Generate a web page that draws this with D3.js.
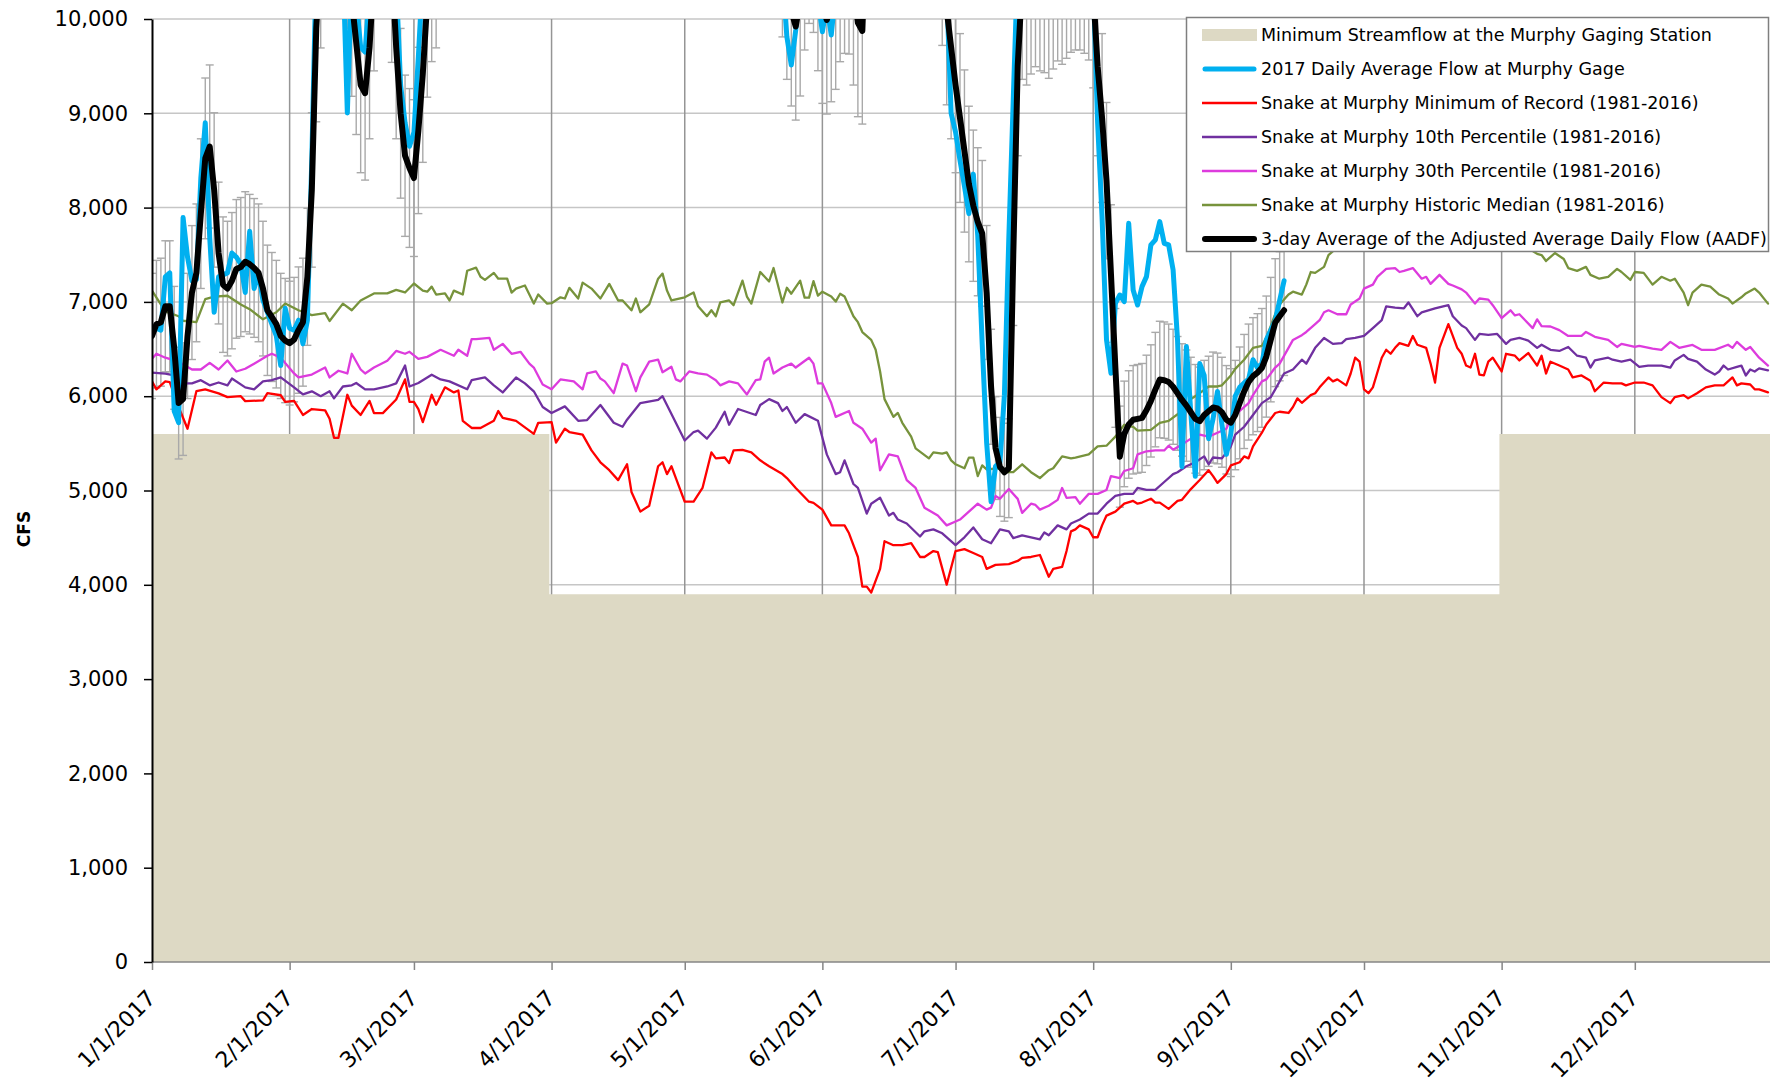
<!DOCTYPE html>
<html>
<head>
<meta charset="utf-8">
<script src="https://cdn.jsdelivr.net/npm/d3@7"></script>
<style>
  body { margin: 0; background: #fff; }
  svg { display: block; font-family: "DejaVu Sans", sans-serif; }
</style>
</head>
<body>
<svg width="1775" height="1083"></svg>
<script>
// every series is [day of year (0 = 1/1/2017), cfs]
const minRecord = [[0,6157],[1,6073],[3,6157],[4,6150],[6,5885],[8,5655],[10,6053],[12,6073],[15,6030],[17,5990],[20,6000],[21,5948],[25,5955],[26,6032],[29,6010],[30,5940],[32,5950],[34,5801],[36,5864],[39,5850],[40,5760],[41,5559],[42,5559],[44,6015],[45,5900],[47,5801],[49,5950],[50,5820],[52,5820],[55,5965],[57,6178],[58,5940],[59,5940],[60,5864],[61,5726],[63,6015],[64,5910],[66,6094],[68,6040],[69,6060],[70,5739],[72,5663],[74,5663],[77,5739],[78,5843],[79,5770],[82,5739],[84,5670],[86,5601],[87,5718],[90,5726],[91,5508],[93,5655],[94,5620],[97,5592],[99,5425],[101,5299],[103,5215],[105,5110],[107,5278],[108,4985],[110,4776],[112,4839],[114,5257],[115,5299],[116,5174],[117,5257],[118,5132],[120,4881],[122,4881],[124,5027],[125,5215],[126,5404],[127,5341],[129,5350],[130,5290],[131,5425],[133,5430],[135,5404],[137,5320],[139,5257],[142,5174],[143,5132],[145,5027],[148,4881],[149,4868],[151,4797],[153,4630],[156,4630],[157,4546],[159,4295],[160,3981],[161,3981],[162,3918],[164,4169],[165,4462],[167,4420],[169,4420],[171,4441],[173,4295],[174,4295],[176,4358],[177,4346],[179,4002],[181,4358],[183,4378],[185,4337],[187,4295],[188,4169],[190,4211],[193,4219],[195,4253],[196,4286],[198,4295],[200,4316],[202,4085],[203,4169],[205,4190],[206,4358],[207,4567],[208,4588],[209,4630],[211,4588],[212,4504],[213,4504],[214,4630],[215,4734],[217,4776],[219,4860],[221,4889],[222,4860],[223,4872],[225,4913],[226,4872],[227,4872],[229,4805],[231,4889],[232,4901],[234,5015],[236,5111],[238,5215],[239,5153],[240,5081],[242,5174],[243,5266],[245,5300],[246,5362],[247,5341],[248,5467],[250,5613],[251,5700],[252,5760],[253,5822],[254,5835],[256,5822],[257,5885],[258,5977],[259,5930],[261,6011],[262,6032],[263,6094],[265,6199],[266,6157],[267,6178],[269,6115],[270,6241],[271,6408],[272,6366],[273,6073],[274,6032],[275,6094],[277,6408],[278,6492],[279,6450],[280,6513],[281,6563],[283,6534],[284,6639],[285,6546],[287,6513],[288,6346],[289,6145],[290,6513],[292,6764],[293,6639],[294,6513],[295,6450],[296,6325],[297,6304],[298,6450],[299,6228],[300,6220],[301,6366],[302,6408],[304,6262],[305,6450],[307,6429],[308,6379],[310,6458],[312,6325],[313,6429],[314,6241],[315,6366],[317,6325],[319,6283],[320,6199],[322,6220],[324,6165],[325,6053],[327,6145],[329,6136],[331,6136],[332,6115],[334,6145],[336,6145],[338,6115],[340,5990],[342,5927],[343,5990],[345,6011],[346,5977],[348,6032],[350,6094],[352,6115],[354,6115],[356,6199],[357,6115],[358,6136],[360,6124],[361,6073],[362,6073],[364,6040]];

const pct10 = [[0,6249],[3,6240],[5,6220],[6,6136],[9,6136],[11,6170],[13,6115],[15,6145],[17,6115],[18,6187],[21,6094],[23,6073],[25,6157],[27,6170],[29,6199],[32,6094],[34,6019],[36,6052],[38,6000],[40,6052],[41,5977],[43,6103],[45,6115],[46,6140],[48,6073],[50,6073],[53,6103],[55,6136],[57,6325],[58,6103],[60,6140],[63,6228],[65,6178],[67,6157],[71,6073],[72,6170],[75,6199],[77,6115],[79,6040],[82,6199],[84,6136],[86,6052],[88,5885],[90,5822],[93,5892],[96,5739],[98,5747],[101,5906],[104,5718],[106,5676],[107,5751],[110,5927],[114,5961],[115,6000],[120,5530],[122,5620],[123,5634],[125,5550],[127,5667],[129,5835],[130,5697],[132,5864],[136,5801],[137,5906],[139,5969],[141,5927],[142,5843],[143,5885],[145,5718],[147,5810],[150,5739],[152,5383],[154,5174],[155,5194],[156,5320],[158,5069],[159,5027],[161,4755],[162,4860],[164,4923],[166,4734],[167,4763],[168,4692],[170,4650],[173,4512],[174,4567],[176,4588],[178,4546],[181,4420],[183,4504],[185,4608],[187,4483],[189,4441],[191,4588],[193,4567],[194,4495],[196,4525],[198,4504],[200,4483],[201,4555],[202,4525],[204,4630],[206,4588],[207,4650],[209,4692],[211,4755],[213,4755],[215,4860],[217,4943],[219,4964],[221,4964],[222,5027],[224,5006],[226,5006],[228,5090],[230,5174],[231,5194],[233,5257],[235,5299],[237,5362],[238,5278],[239,5350],[241,5341],[243,5467],[244,5592],[246,5676],[248,5801],[250,5927],[252,5990],[253,6073],[255,6241],[257,6283],[259,6387],[260,6345],[262,6513],[264,6618],[266,6555],[268,6563],[269,6605],[271,6618],[273,6639],[275,6722],[277,6806],[278,6953],[280,6940],[282,6932],[283,6994],[285,6848],[286,6890],[289,6932],[292,6965],[293,6848],[295,6750],[296,6722],[298,6597],[299,6660],[301,6650],[303,6660],[305,6555],[306,6597],[308,6618],[310,6590],[312,6513],[313,6546],[315,6492],[317,6480],[319,6522],[321,6429],[323,6408],[324,6304],[325,6379],[328,6408],[329,6387],[331,6366],[333,6387],[335,6312],[337,6325],[340,6325],[342,6304],[343,6379],[345,6438],[346,6396],[348,6366],[350,6283],[352,6229],[353,6262],[354,6325],[355,6283],[357,6312],[358,6325],[359,6220],[360,6283],[361,6262],[362,6295],[364,6274]];

const pct30 = [[0,6396],[1,6450],[3,6408],[6,6366],[9,6283],[11,6283],[13,6354],[15,6283],[17,6379],[19,6262],[21,6291],[23,6345],[26,6429],[27,6450],[29,6408],[32,6241],[33,6199],[36,6229],[39,6304],[40,6199],[42,6270],[44,6241],[45,6450],[47,6283],[48,6241],[50,6304],[53,6375],[55,6480],[57,6450],[58,6471],[60,6396],[62,6417],[65,6492],[68,6429],[69,6492],[71,6429],[72,6605],[73,6605],[76,6618],[77,6492],[79,6555],[81,6450],[83,6471],[85,6345],[86,6304],[88,6124],[90,6073],[92,6178],[95,6157],[97,6073],[98,6241],[100,6262],[101,6187],[102,6157],[104,6032],[106,6345],[107,6325],[109,6053],[110,6199],[112,6366],[114,6387],[115,6254],[117,6312],[118,6178],[119,6157],[121,6262],[123,6241],[125,6229],[127,6170],[128,6115],[130,6157],[132,6136],[134,6019],[136,6170],[137,6178],[138,6366],[139,6408],[140,6241],[142,6304],[144,6345],[145,6304],[148,6408],[149,6345],[150,6136],[151,6136],[153,5927],[154,5781],[157,5843],[158,5718],[160,5655],[162,5508],[163,5550],[164,5215],[166,5383],[168,5362],[170,5111],[172,5027],[174,4818],[177,4734],[179,4630],[181,4672],[182,4692],[184,4776],[186,4860],[188,4797],[189,4818],[190,4943],[191,4913],[193,5015],[195,4911],[196,4763],[198,4860],[199,4847],[200,4797],[202,4839],[204,4901],[205,5027],[206,4922],[208,4930],[209,4860],[211,4964],[213,4964],[215,5006],[216,5153],[218,5132],[219,5207],[221,5236],[222,5383],[224,5416],[226,5425],[228,5425],[229,5475],[230,5433],[232,5488],[234,5550],[236,5592],[238,5571],[240,5613],[242,5655],[243,5760],[245,5843],[247,5927],[248,6011],[250,6157],[251,6178],[253,6304],[254,6346],[256,6513],[257,6597],[259,6647],[260,6681],[262,6764],[263,6806],[264,6890],[265,6911],[267,6869],[269,6869],[270,6973],[272,7036],[273,7141],[275,7183],[276,7266],[278,7350],[280,7359],[281,7317],[282,7329],[284,7359],[286,7246],[287,7266],[288,7191],[290,7287],[292,7191],[293,7174],[295,7133],[296,7099],[298,6982],[299,7036],[301,7024],[302,6965],[304,6827],[306,6911],[307,6857],[308,6869],[311,6722],[312,6815],[313,6743],[315,6739],[317,6701],[319,6639],[322,6639],[323,6681],[325,6630],[328,6597],[330,6522],[331,6555],[334,6522],[335,6534],[338,6504],[340,6492],[342,6576],[344,6513],[347,6543],[349,6492],[352,6492],[355,6546],[356,6513],[357,6576],[359,6492],[360,6522],[362,6408],[364,6325]];

// mid Sep - early Nov is hidden behind the legend in the original, values there are estimates
const median = [[0,7120],[3,6900],[6,6848],[7,6800],[10,6785],[12,7030],[14,7057],[17,7065],[20,6973],[22,6923],[25,6815],[28,6890],[30,6982],[33,6911],[36,6860],[39,6881],[40,6798],[43,6982],[45,6911],[47,7015],[50,7090],[53,7090],[55,7128],[57,7100],[59,7195],[61,7120],[62,7108],[63,7162],[64,7078],[66,7090],[67,7015],[68,7120],[70,7078],[71,7330],[73,7363],[74,7266],[75,7233],[77,7308],[78,7246],[80,7246],[81,7099],[82,7141],[84,7174],[86,6982],[87,7078],[89,6982],[90,6986],[92,7049],[93,7036],[94,7149],[96,7036],[97,7204],[99,7141],[101,7036],[103,7191],[105,7015],[106,7015],[108,6911],[109,7036],[110,6890],[112,6973],[114,7246],[115,7300],[116,7120],[117,7015],[120,7049],[122,7099],[123,6953],[125,6848],[126,6911],[127,6848],[128,6994],[130,7015],[131,6965],[133,7225],[134,7057],[135,6982],[137,7317],[139,7217],[140,7359],[142,6994],[143,7150],[144,7087],[146,7225],[147,7045],[148,7045],[149,7221],[150,7066],[151,7108],[153,7057],[154,7003],[155,7087],[156,7057],[158,6848],[159,6785],[160,6680],[162,6597],[163,6492],[164,6262],[165,5969],[167,5781],[168,5823],[169,5718],[171,5571],[172,5446],[175,5341],[176,5404],[178,5391],[179,5404],[180,5320],[181,5278],[183,5236],[184,5349],[185,5349],[186,5153],[187,5266],[188,5224],[191,5236],[192,5194],[194,5194],[196,5278],[198,5194],[200,5132],[202,5215],[203,5236],[205,5362],[207,5341],[208,5349],[211,5383],[213,5467],[215,5475],[217,5571],[219,5697],[221,5676],[222,5634],[225,5643],[227,5718],[229,5739],[232,5843],[234,5969],[236,6032],[238,6103],[240,6103],[241,6115],[243,6220],[244,6290],[246,6387],[248,6513],[250,6534],[251,6618],[253,6869],[254,6973],[256,7078],[257,7108],[259,7078],[260,7183],[261,7317],[262,7308],[264,7371],[265,7497],[268,7620],[272,7760],[276,7880],[280,7960],[284,8010],[288,7940],[292,7890],[296,7820],[300,7760],[304,7690],[308,7600],[311,7540],[312,7509],[313,7497],[314,7434],[316,7518],[318,7455],[319,7359],[321,7329],[323,7371],[324,7287],[326,7246],[328,7266],[330,7350],[331,7317],[333,7233],[334,7317],[336,7308],[338,7183],[340,7266],[342,7225],[343,7246],[345,7099],[346,6965],[347,7099],[349,7183],[351,7162],[353,7078],[355,7036],[356,6982],[358,7049],[359,7090],[361,7141],[362,7099],[364,6982]];

// above 10,000 the original is cut off, those values are estimates
const dailyFlow = [[0,6722],[1,6722],[2,6701],[3,7266],[4,7308],[5,5843],[6,5720],[7,7894],[8,7476],[9,7224],[10,7240],[11,8313],[12,8899],[13,7685],[14,6890],[15,7266],[17,7308],[18,7518],[19,7476],[20,7400],[21,7100],[22,7748],[23,7141],[24,7308],[25,7015],[26,6890],[28,6639],[29,6325],[30,6932],[31,6722],[32,6701],[33,6806],[34,6555],[35,6806],[36,8522],[37,10600],[38,11800],[40,12500],[42,11500],[43,10600],[44,9003],[45,10500],[46,10200],[47,9700],[48,9650],[49,10300],[50,11200],[52,11800],[54,11000],[55,10400],[56,9300],[57,8900],[58,8650],[59,8800],[60,9600],[61,10500],[62,11200],[66,13000],[75,16000],[85,19000],[95,21000],[105,23000],[115,20000],[125,21000],[133,17000],[138,13000],[141,11000],[142,10500],[143,9812],[144,9512],[145,9883],[146,10500],[147,11000],[148,11200],[149,10800],[150,10200],[151,9865],[152,10150],[153,9830],[154,10300],[155,10800],[156,11000],[157,10700],[158,10300],[159,10200],[160,10150],[161,11000],[165,14000],[170,15000],[175,13000],[178,11000],[179,10300],[180,9000],[181,8800],[182,8500],[183,8229],[184,7936],[185,8355],[186,7700],[187,6555],[188,5508],[189,4881],[190,5257],[191,5299],[192,6011],[193,7685],[194,9150],[195,10600],[197,11800],[202,12500],[207,12000],[211,11200],[212,10400],[213,8900],[214,7900],[215,6600],[216,6243],[217,6985],[218,7073],[219,7003],[220,7833],[221,7126],[222,6967],[223,7162],[224,7268],[225,7604],[226,7657],[227,7851],[228,7621],[229,7604],[230,7339],[231,6596],[232,5253],[233,6526],[234,5818],[235,5150],[236,6346],[237,6220],[238,5550],[239,5760],[240,6050],[241,5700],[242,5383],[243,5600],[244,6000],[245,6094],[246,6140],[247,6180],[248,6387],[249,6300],[250,6346],[251,6597],[252,6700],[253,6800],[254,7015],[255,7225]];

const avg3Day = [[0,6639],[1,6764],[2,6785],[3,6953],[4,6953],[5,6513],[6,5927],[7,5969],[8,6639],[9,7099],[10,7308],[11,7936],[12,8522],[13,8648],[14,8187],[15,7518],[16,7183],[17,7141],[18,7225],[19,7350],[20,7370],[21,7426],[22,7400],[23,7360],[24,7308],[25,7141],[26,6911],[27,6840],[28,6764],[29,6639],[30,6590],[31,6563],[32,6600],[33,6701],[34,6785],[35,7266],[36,8187],[37,9900],[38,10770],[39,11800],[41,12600],[43,12000],[44,11000],[45,10200],[46,9750],[47,9300],[48,9213],[49,9700],[50,10500],[51,11300],[53,11800],[54,10600],[55,9700],[56,9000],[57,8550],[58,8420],[59,8313],[60,8818],[61,9422],[62,10190],[63,10609],[64,10771],[65,11600],[70,14000],[80,18000],[90,20000],[100,22500],[110,21500],[120,22000],[130,18000],[137,13500],[140,12000],[141,11400],[142,10900],[143,10400],[144,10086],[145,9920],[146,10204],[147,10746],[148,11059],[149,10953],[150,10502],[151,10117],[152,9991],[153,10136],[154,10282],[155,10608],[156,10706],[157,10698],[158,10333],[159,9960],[160,9873],[161,11200],[165,14500],[170,15500],[175,13500],[177,11600],[178,10800],[179,10100],[180,9700],[181,9300],[182,8950],[183,8600],[184,8250],[185,8020],[186,7850],[187,7727],[188,7100],[189,6100],[190,5450],[191,5250],[192,5194],[193,5236],[194,7500],[195,9500],[196,10400],[197,10333],[198,10463],[199,10549],[200,10500],[201,10479],[202,10412],[203,10522],[204,10617],[205,10577],[206,10648],[207,10719],[208,10746],[209,10746],[210,10707],[211,10628],[212,10300],[213,9500],[214,8950],[215,8286],[216,7300],[217,6300],[218,5359],[219,5600],[220,5700],[221,5750],[222,5760],[223,5770],[224,5850],[225,5950],[226,6070],[227,6177],[228,6170],[229,6150],[230,6100],[231,6030],[232,5960],[233,5900],[234,5830],[235,5760],[236,5735],[237,5800],[238,5840],[239,5880],[240,5870],[241,5830],[242,5750],[243,5720],[244,5800],[245,5929],[246,6050],[247,6150],[248,6212],[249,6250],[250,6300],[251,6420],[252,6600],[253,6780],[254,6848],[255,6911]];

// minimum streamflow schedule: period start -> cfs
const minFlowStarts = ["2017-01-01", "2017-04-01", "2017-11-01"];
const minFlowCfs = [5600, 3900, 5600];

const yTicks = [0, 1000, 2000, 3000, 4000, 5000, 6000, 7000, 8000, 9000, 10000];
const errorPct = 0.10; // error bars on the 3-day average

const legendLabels = [
    "Minimum Streamflow at the Murphy Gaging Station",
    "2017 Daily Average Flow at Murphy Gage",
    "Snake at Murphy Minimum of Record (1981-2016)",
    "Snake at Murphy 10th Percentile (1981-2016)",
    "Snake at Murphy 30th Percentile (1981-2016)",
    "Snake at Murphy Historic Median (1981-2016)",
    "3-day Average of the Adjusted Average Daily Flow (AADF)"
];

const svg = d3.select("svg");
const plotLeft = 152, plotRight = 1768, plotTop = 19, plotBottom = 962;
const fontFamily = "DejaVu Sans, sans-serif";

const year0 = new Date(2017, 0, 1);
const toDate = d => d3.timeDay.offset(year0, d);

const x = d3.scaleTime().domain([year0, new Date(2017, 11, 31)]).range([plotLeft, plotRight]);
const y = d3.scaleLinear().domain([0, 10000]).range([plotBottom, plotTop]);
const months = d3.timeMonth.range(year0, new Date(2018, 0, 1));

svg.append("defs").append("clipPath").attr("id", "plot")
    .append("rect")
    .attr("x", plotLeft).attr("y", plotTop)
    .attr("width", plotRight - plotLeft + 2).attr("height", plotBottom - plotTop);

// gridlines
svg.append("g")
    .selectAll("line")
    .data(yTicks.slice(1))
    .join("line")
    .attr("x1", plotLeft).attr("x2", plotRight + 1)
    .attr("y1", d => y(d)).attr("y2", d => y(d))
    .attr("stroke", "#c6c6c6")
    .attr("stroke-width", 1.5);

svg.append("g")
    .selectAll("line")
    .data(months.slice(1))
    .join("line")
    .attr("x1", d => x(d)).attr("x2", d => x(d))
    .attr("y1", plotTop).attr("y2", plotBottom)
    .attr("stroke", "#959595")
    .attr("stroke-width", 1.5);

// minimum streamflow area (steps half a day before each period start)
const halfDay = 12 * 3600 * 1000;
const minFlowPts = minFlowStarts.map((s, i) => ({
    t: i === 0 ? year0 : new Date(d3.timeParse("%Y-%m-%d")(s).getTime() - halfDay),
    v: minFlowCfs[i]
}));
minFlowPts.push({ t: null, v: minFlowCfs[minFlowCfs.length - 1] });

svg.append("path")
    .datum(minFlowPts)
    .attr("fill", "#ddd9c4")
    .attr("d", d3.area()
        .curve(d3.curveStepAfter)
        .x(d => d.t ? x(d.t) : plotRight + 2)
        .y0(y(0))
        .y1(d => y(d.v)));

const plot = svg.append("g").attr("clip-path", "url(#plot)");

// error bars on the 3-day average
const bars = plot.append("g")
    .attr("stroke", "#a9a9a9")
    .attr("stroke-width", 1.4)
    .selectAll("g")
    .data(avg3Day)
    .join("g");

bars.append("line")
    .attr("x1", d => x(toDate(d[0]))).attr("x2", d => x(toDate(d[0])))
    .attr("y1", d => y(d[1] * (1 - errorPct)))
    .attr("y2", d => y(d[1] * (1 + errorPct)));

bars.selectAll("line.cap")
    .data(d => [d[1] * (1 - errorPct), d[1] * (1 + errorPct)].map(v => [d[0], v]))
    .join("line")
    .attr("class", "cap")
    .attr("x1", d => x(toDate(d[0])) - 4).attr("x2", d => x(toDate(d[0])) + 4)
    .attr("y1", d => y(d[1])).attr("y2", d => y(d[1]));

const line = d3.line()
    .x(d => x(toDate(d[0])))
    .y(d => y(d[1]));

const series = [
    { data: minRecord, color: "#ff0000", width: 2.3 },
    { data: pct10, color: "#7030a0", width: 2.3 },
    { data: pct30, color: "#dd3bdd", width: 2.3 },
    { data: median, color: "#77933c", width: 2.3 },
    { data: dailyFlow, color: "#00b0f0", width: 5 },
    { data: avg3Day, color: "#000000", width: 6 }
];

plot.selectAll("path.series")
    .data(series)
    .join("path")
    .attr("class", "series")
    .attr("fill", "none")
    .attr("stroke", d => d.color)
    .attr("stroke-width", d => d.width)
    .attr("stroke-linejoin", "round")
    .attr("stroke-linecap", "round")
    .attr("d", d => line(d.data));

// axes
const xAxis = svg.append("g")
    .attr("transform", `translate(0,${plotBottom})`)
    .call(d3.axisBottom(x).tickValues(months).tickFormat(d3.timeFormat("%-m/%-d/%Y")).tickSize(8).tickSizeOuter(0))
    .attr("font-family", fontFamily);
xAxis.select(".domain").attr("stroke", "#868686").attr("stroke-width", 1.5)
    .attr("d", `M${plotLeft},0H${plotRight + 2}`);
xAxis.selectAll(".tick line").attr("stroke", "#868686").attr("stroke-width", 1.5);
xAxis.selectAll(".tick text")
    .attr("font-size", 22)
    .attr("fill", "#000")
    .attr("text-anchor", "end")
    .attr("transform", "translate(-1,32) rotate(-45)")
    .attr("x", 0).attr("y", 0).attr("dy", "0.35em");

const yAxis = svg.append("g")
    .attr("transform", `translate(${plotLeft},0)`)
    .call(d3.axisLeft(y).tickValues(yTicks).tickFormat(d3.format(",")).tickSize(8).tickPadding(16).tickSizeOuter(0))
    .attr("font-family", fontFamily);
yAxis.select(".domain").attr("stroke", "#000").attr("stroke-width", 2);
yAxis.selectAll(".tick line").attr("stroke", "#000").attr("stroke-width", 1.5);
yAxis.selectAll(".tick text").attr("font-size", 21).attr("fill", "#000");

svg.append("text")
    .attr("transform", "translate(30,529) rotate(-90)")
    .attr("text-anchor", "middle")
    .attr("font-size", 17)
    .attr("font-weight", "bold")
    .text("CFS");

// legend
const legend = svg.append("g");
legend.append("rect")
    .attr("x", 1186.5).attr("y", 17.5)
    .attr("width", 582).attr("height", 234)
    .attr("fill", "#fff")
    .attr("stroke", "#7f7f7f")
    .attr("stroke-width", 1.5);

const legendStyles = [
    { color: "#ddd9c4", width: 12, cap: "butt" },
    { color: "#00b0f0", width: 5, cap: "round" },
    { color: "#ff0000", width: 2.3, cap: "butt" },
    { color: "#7030a0", width: 2.3, cap: "butt" },
    { color: "#dd3bdd", width: 2.3, cap: "butt" },
    { color: "#77933c", width: 2.3, cap: "butt" },
    { color: "#000000", width: 6, cap: "round" }
];

const item = legend.selectAll("g.item")
    .data(legendLabels)
    .join("g")
    .attr("class", "item")
    .attr("transform", (d, i) => `translate(0,${35 + i * 34})`);

item.append("line")
    .attr("x1", (d, i) => legendStyles[i].cap === "round" ? 1205 : 1202)
    .attr("x2", (d, i) => legendStyles[i].cap === "round" ? 1254 : 1257)
    .attr("stroke", (d, i) => legendStyles[i].color)
    .attr("stroke-width", (d, i) => legendStyles[i].width)
    .attr("stroke-linecap", (d, i) => legendStyles[i].cap);

item.append("text")
    .attr("x", 1261)
    .attr("dy", "0.36em")
    .attr("font-size", 17.5)
    .text(d => d);
</script>
</body>
</html>
